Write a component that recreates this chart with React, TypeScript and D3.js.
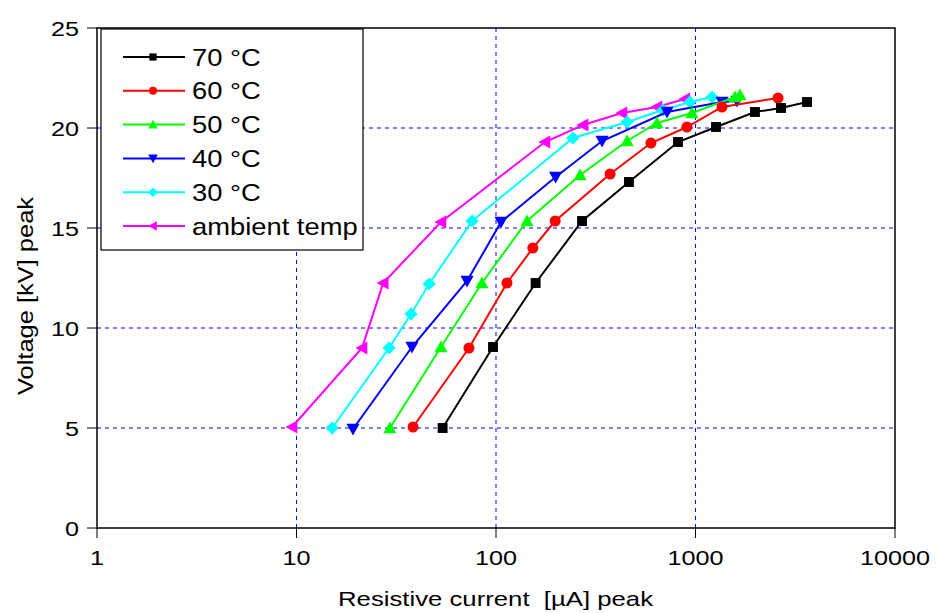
import React from "react";
import * as d3 from "d3";

const seriesNames = ["70 °C", "60 °C", "50 °C", "40 °C", "30 °C", "ambient temp"];
const seriesColors = ["#000000", "#ff0000", "#00ff00", "#0000ff", "#00ffff", "#ff00ff"];
const seriesMarkers = ["square", "circle", "triUp", "triDown", "diamond", "triLeft"];

const c70 = [[54, 5.0], [96.6, 9.05], [158, 12.25], [270, 15.35], [464, 17.3], [817, 19.3], [1267, 20.05], [1986, 20.8], [2683, 21.0], [3622, 21.3]];
const c60 = [[38.4, 5.05], [73.2, 9.0], [113.5, 12.25], [153, 14.0], [198, 15.35], [373, 17.7], [598, 19.25], [906, 20.05], [1358, 21.05], [2593, 21.5]];
const c50 = [[29.4, 5.0], [53, 9.05], [85, 12.25], [143, 15.35], [264, 17.65], [454, 19.35], [641, 20.25], [960, 20.75], [1578, 21.55], [1671, 21.65]];
const c40 = [[19.2, 4.95], [37.9, 9.05], [71.6, 12.35], [106, 15.3], [199, 17.55], [340, 19.35], [720, 20.8], [1358, 21.3], [1615, 21.35]];
const c30 = [[15.1, 5.0], [29.1, 9.0], [37.5, 10.7], [46.2, 12.2], [75.9, 15.35], [243, 19.5], [454, 20.3], [687, 20.9], [938, 21.3], [1211, 21.55]];
const cAmb = [[9.5, 5.05], [21.3, 9.0], [27.2, 12.25], [53, 15.3], [176, 19.3], [273, 20.15], [428, 20.75], [641, 21.05], [885, 21.45]];
const allSeries = [c70, c60, c50, c40, c30, cAmb];

const xTicks = [1, 10, 100, 1000, 10000];
const yTicks = [0, 5, 10, 15, 20, 25];

const W = 936, H = 613;
const L = 97, R = 895, T = 28, B = 528;

function Marker({ type, x, y, color, s }: { type: string; x: number; y: number; color: string; s: number }) {
  if (type === "square") return <rect x={x - s * 0.9} y={y - s * 0.9} width={1.8 * s} height={1.8 * s} fill={color} />;
  if (type === "circle") return <circle cx={x} cy={y} r={s} fill={color} />;
  let pts: number[][] = [];
  const k = s * 1.2;
  if (type === "triUp") pts = [[x, y - k], [x + k, y + k * 0.8], [x - k, y + k * 0.8]];
  if (type === "triDown") pts = [[x, y + k], [x + k, y - k * 0.8], [x - k, y - k * 0.8]];
  if (type === "triLeft") pts = [[x - k, y], [x + k * 0.8, y - k], [x + k * 0.8, y + k]];
  if (type === "diamond") pts = [[x, y - k], [x + k, y], [x, y + k], [x - k, y]];
  return <polygon points={pts.map((p) => p.join(",")).join(" ")} fill={color} />;
}

export default function App() {
  const xs = d3.scaleLog().domain([1, 10000]).range([L, R]);
  const ys = d3.scaleLinear().domain([0, 25]).range([B, T]);
  const line = d3.line<number[]>().x((d) => xs(d[0])).y((d) => ys(d[1]));
  const font = "'Liberation Sans', Arial, sans-serif";
  const order = [5, 4, 3, 2, 1, 0];
  return (
    <svg width={W} height={H} style={{ position: "absolute", left: 0, top: 0, background: "#fff" }} fontFamily={font}>
      <rect x={0} y={0} width={W} height={H} fill="#fff" />
      {xTicks.slice(1, -1).map((t) => (
        <line key={"gx" + t} x1={xs(t)} x2={xs(t)} y1={T} y2={B} stroke="#0000ff" strokeWidth={1} strokeDasharray="4,4" />
      ))}
      {yTicks.slice(1, -1).map((t) => (
        <line key={"gy" + t} x1={L} x2={R} y1={ys(t)} y2={ys(t)} stroke="#0000ff" strokeWidth={1} strokeDasharray="4,4" />
      ))}
      <rect x={L} y={T} width={R - L} height={B - T} fill="none" stroke="#000" strokeWidth={1.5} />
      {yTicks.map((t) => (
        <g key={"ty" + t}>
          <line x1={L - 10} x2={L} y1={ys(t)} y2={ys(t)} stroke="#000" strokeWidth={1} />
          <text transform={`translate(79,${ys(t)}) scale(1.2,1)`} dy="0.36em" textAnchor="end" fontSize={21}>{t}</text>
        </g>
      ))}
      {xTicks.map((t) => (
        <g key={"tx" + t}>
          <line x1={xs(t)} x2={xs(t)} y1={B} y2={B + 10} stroke="#000" strokeWidth={1} />
          <text transform={`translate(${xs(t)},565) scale(1.2,1)`} textAnchor="middle" fontSize={21}>{t}</text>
        </g>
      ))}
      <text x={338} y={606} fontSize={21} textLength={315} lengthAdjust="spacingAndGlyphs">{"Resistive current \u00A0[µA] peak"}</text>
      <text transform={`translate(33,296) rotate(-90)`} textAnchor="middle" fontSize={22} textLength={198} lengthAdjust="spacingAndGlyphs">Voltage [kV] peak</text>
      {order.map((i) => (
        <g key={"s" + i}>
          <path d={line(allSeries[i] as any) || ""} fill="none" stroke={seriesColors[i]} strokeWidth={2} />
          {allSeries[i].map((d, j) => (
            <Marker key={j} type={seriesMarkers[i]} x={xs(d[0])} y={ys(d[1])} color={seriesColors[i]} s={5.5} />
          ))}
        </g>
      ))}
      <rect x={101} y={29} width={262} height={221} fill="#fff" stroke="#000" strokeWidth={1.2} />
      {seriesNames.map((n, i) => {
        const y = 57 + i * 33.8;
        return (
          <g key={"l" + i}>
            <line x1={123} x2={185} y1={y} y2={y} stroke={seriesColors[i]} strokeWidth={2} />
            <Marker type={seriesMarkers[i]} x={153} y={y} color={seriesColors[i]} s={4} />
            <text transform={`translate(192,${y}) scale(1.14,1)`} dy="0.36em" fontSize={24}>{n}</text>
          </g>
        );
      })}
    </svg>
  );
}
